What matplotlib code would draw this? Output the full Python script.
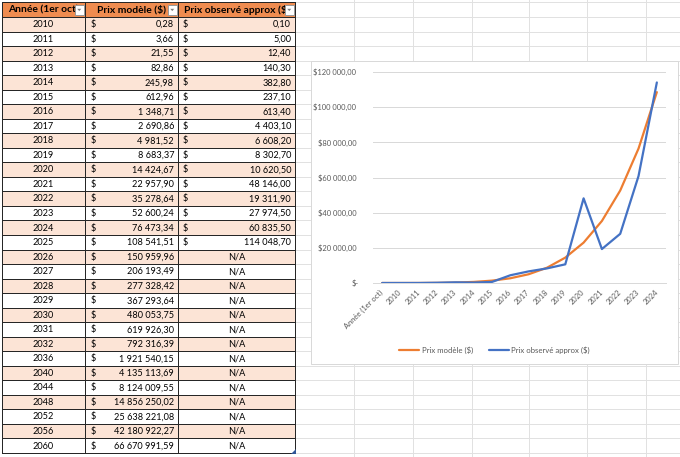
import matplotlib
matplotlib.use("Agg")
import matplotlib.pyplot as plt
from matplotlib.patches import Rectangle, Polygon
from matplotlib.ticker import FuncFormatter

plt.rcParams['font.family'] = ['Lato', 'DejaVu Sans']

# ---------------- data ----------------
headers = ["Année (1er oct)", "Prix modèle ($)", "Prix observé approx ($)"]
years = [2010, 2011, 2012, 2013, 2014, 2015, 2016, 2017, 2018, 2019, 2020,
         2021, 2022, 2023, 2024, 2025, 2026, 2027, 2028, 2029, 2030, 2031,
         2032, 2036, 2040, 2044, 2048, 2052, 2056, 2060]
model = [0.28, 3.66, 21.55, 82.86, 245.98, 612.96, 1348.71, 2690.86, 4981.52,
         8683.37, 14424.67, 22957.90, 35278.64, 52600.24, 76473.34, 108541.51,
         150959.96, 206193.49, 277328.42, 367293.64, 480053.75, 619926.30,
         792316.39, 1921540.15, 4135113.69, 8124009.55, 14856250.02,
         25638221.08, 42180922.27, 66670991.59]
observed = [0.10, 5.00, 12.40, 140.30, 382.80, 237.10, 613.40, 4403.10,
            6608.20, 8302.70, 10620.50, 48146.00, 19311.90, 27974.50,
            60835.50, 114048.70]
na_text = "N/A"

# chart series (categories as shown in the chart: header + first 15 years)
chart_categories = [headers[0]] + [str(y) for y in years[:15]]
chart_model = model[:16]
chart_observed = observed[:16]
y_ticks = [0, 20000, 40000, 60000, 80000, 100000, 120000]
series_names = ["Prix modèle ($)", "Prix observé approx ($)"]


def fr(v):
    s = f"{v:,.2f}"
    return s.replace(",", " ").replace(".", ",")


# ---------------- figure ----------------
W, H = 680, 457
fig = plt.figure(figsize=(W / 100, H / 100), dpi=100)
fig.patch.set_facecolor("white")
bg = fig.add_axes([0, 0, 1, 1])
bg.set_xlim(0, W)
bg.set_ylim(H, 0)
bg.axis("off")

PX = 0.72  # 1 px in points
grid_c = "#E1E1E1"

# table geometry
col_edges = [2, 85, 178, 295]
top = 2
head_bot = 17
tab_bot = 453
n = len(years)
rh = (tab_bot - head_bot) / n
row_edges = [head_bot + i * rh for i in range(n + 1)]

# sheet gridlines
for x in [354, 413, 472, 529, 587, 646]:
    bg.plot([x, x], [0, H], color=grid_c, lw=PX, zorder=1)
for yv in [top] + row_edges + [tab_bot + rh]:
    bg.plot([col_edges[-1], W], [yv, yv], color=grid_c, lw=PX, zorder=1)

# header
bg.add_patch(Rectangle((col_edges[0], top), col_edges[-1] - col_edges[0],
                       head_bot - top, fc="#EF8C50", ec="none", zorder=2))
for i in range(n):
    fc = "#FCE4D6" if i % 2 == 0 else "white"
    bg.add_patch(Rectangle((col_edges[0], row_edges[i]),
                           col_edges[-1] - col_edges[0], rh,
                           fc=fc, ec="none", zorder=2))

# borders
line_c = "#262626"
for yv in [top] + row_edges:
    bg.plot([col_edges[0], col_edges[-1]], [yv, yv], color=line_c, lw=PX, zorder=3)
for x in col_edges:
    bg.plot([x, x], [top, tab_bot], color=line_c, lw=PX, zorder=3)

# header texts with dropdown buttons
for j, htxt in enumerate(headers):
    l, r = col_edges[j], col_edges[j + 1]
    bx = r - 10
    clip = Rectangle((l + 1, top), bx - l - 2, head_bot - top, transform=bg.transData)
    t = bg.text((l + r) / 2, (top + head_bot) / 2 + 0.5, htxt, ha="center",
                va="center", fontsize=7.4, fontweight="bold", color="black",
                zorder=4)
    t.set_clip_path(clip)
    bg.add_patch(Rectangle((bx, top + 2.5), 8.5, 10.5, fc="white",
                           ec="#9A9A9A", lw=PX, zorder=4))
    cx, cy = bx + 4.25, top + 7.8
    bg.add_patch(Polygon([[cx - 2, cy - 1], [cx + 2, cy - 1], [cx, cy + 1.3]],
                         closed=True, fc="#7F7F7F", ec="none", zorder=5))

# body texts
fs = 6.6
for i, yr in enumerate(years):
    yc = row_edges[i] + rh / 2 + 0.3
    bg.text((col_edges[0] + col_edges[1]) / 2, yc, str(yr), ha="center",
            va="center", fontsize=fs, zorder=4)
    bg.text(col_edges[1] + 6, yc, "$", ha="left", va="center", fontsize=fs, zorder=4)
    bg.text(col_edges[2] - 4, yc, fr(model[i]), ha="right", va="center",
            fontsize=fs, zorder=4)
    if i < len(observed):
        bg.text(col_edges[2] + 5, yc, "$", ha="left", va="center", fontsize=fs, zorder=4)
        bg.text(col_edges[3] - 4, yc, fr(observed[i]), ha="right", va="center",
                fontsize=fs, zorder=4)
    else:
        bg.text((col_edges[2] + col_edges[3]) / 2, yc, na_text, ha="center",
                va="center", fontsize=fs, zorder=4)

# resize handle
bg.add_patch(Polygon([[col_edges[-1] + 1, tab_bot - 4], [col_edges[-1] + 1, tab_bot + 1],
                      [col_edges[-1] - 4, tab_bot + 1]], closed=True,
                     fc="#2F5597", ec="none", zorder=5))

# chart frame
bg.add_patch(Rectangle((311, 61), 367, 303, fc="white", ec="#D9D9D9",
                       lw=PX, zorder=6))

# ---------------- chart ----------------
pl, pr, pt, pb = 373, 666, 72, 283
ax = fig.add_axes([pl / W, 1 - pb / H, (pr - pl) / W, (pb - pt) / H])
ax.set_facecolor("none")
xs = list(range(len(chart_categories)))
ln1, = ax.plot(xs, chart_model, color="#ED7D31", lw=1.6,
               solid_joinstyle="round", solid_capstyle="round", zorder=3)
ln2, = ax.plot(xs, chart_observed, color="#4472C4", lw=1.6,
               solid_joinstyle="round", solid_capstyle="round", zorder=4)
ax.set_xlim(-0.5, len(xs) - 0.5)
ax.set_ylim(0, 120000)
ax.set_yticks(y_ticks)
ax.yaxis.set_major_formatter(FuncFormatter(
    lambda v, p: "$-" if v == 0 else "$" + fr(v)))
ax.set_xticks(xs)
ax.set_xticklabels(chart_categories, rotation=45, ha="right", va="center",
                   rotation_mode="anchor")
ax.yaxis.grid(True, color="#D9D9D9", lw=PX)
ax.set_axisbelow(True)
for s in ["top", "right", "left"]:
    ax.spines[s].set_visible(False)
ax.spines["bottom"].set_color("#D9D9D9")
ax.spines["bottom"].set_linewidth(PX)
ax.tick_params(axis="both", length=0, labelsize=5.4, labelcolor="#595959")
ax.tick_params(axis="y", pad=12)
ax.tick_params(axis="x", pad=6)
ticks = ax.yaxis.get_major_ticks()
ticks[0].set_pad(10.5)

fig.legend([ln1, ln2], series_names, loc="center",
           bbox_to_anchor=(494.5 / W, 1 - 350 / H), ncol=2, frameon=False,
           fontsize=5.6, labelcolor="#595959", handlelength=2.6,
           handletextpad=0.3, columnspacing=2.0)

fig.savefig("out.png", dpi=100, facecolor="white")
